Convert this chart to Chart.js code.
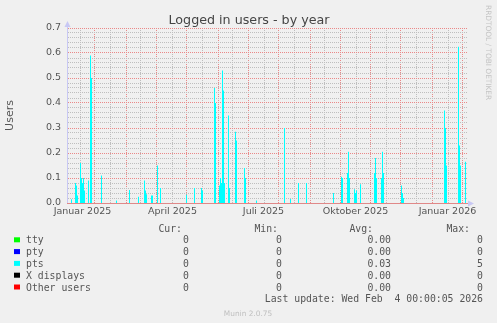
<!DOCTYPE html>
<html>
<head>
<meta charset="utf-8">
<script src="https://cdn.jsdelivr.net/npm/chart.js@4/dist/chart.umd.min.js"></script>
<style>
html, body { margin: 0; padding: 0; background: #f0f0f0; }
canvas { display: block; }
</style>
</head>
<body>
<canvas id="grafico" width="497" height="323"></canvas>
<script>
// dias contados a partir de 1 jan 2025 (dias sem pico = 0 usuarios)
const diasPico = [-11, -7, -6, -5, -2, -1, 0, 1, 2, 6, 8, 9, 19, 34, 47, 56, 62, 63, 64, 69, 70, 75, 78,
    104, 112, 119, 120, 132, 133, 137, 138, 139, 140, 141, 142, 146, 147, 153, 154, 162, 163, 174,
    202, 208, 216, 224, 251, 259, 260, 265, 266, 267, 272, 273, 274, 278, 292, 293, 294, 299, 300, 301,
    319, 320, 321, 362, 363, 364, 376, 377, 378, 383];
const usuariosPts = [0.015, 0.08, 0.07, 0.03, 0.16, 0.1, 0.08, 0.1, 0.05, 0.09, 0.59, 0.5, 0.11, 0.01, 0.052, 0.025, 0.09, 0.05, 0.035, 0.03, 0.03, 0.15, 0.06,
    0.033, 0.06, 0.06, 0.05, 0.46, 0.4, 0.07, 0.1, 0.08, 0.53, 0.45, 0.08, 0.35, 0.06, 0.285, 0.25, 0.14, 0.1, 0.01,
    0.3, 0.016, 0.08, 0.08, 0.04, 0.105, 0.1, 0.12, 0.205, 0.1, 0.055, 0.04, 0.05, 0.075, 0.12, 0.18, 0.1, 0.1, 0.205, 0.12,
    0.07, 0.04, 0.02, 0.37, 0.3, 0.15, 0.625, 0.23, 0.15, 0.165];

const rotulosX = ['Januar 2025', 'April 2025', 'Juli 2025', 'Oktober 2025', 'Januar 2026'];
const diasRotulos = [0, 90, 181, 273, 365];

// linhas de grade verticais (em dias)
const gradeMaior = [12, 44, 74, 104, 136, 166, 196, 228, 258, 288, 318, 350, 380];
const gradeMenor = [-2, 28, 58, 90, 120, 150, 182, 212, 242, 274, 304, 334, 366];

const series = ['tty', 'pty', 'pts', 'X displays', 'Other users'];
const cores = ['#00ff00', '#0000ff', '#00ffff', '#000000', '#ff0000'];
const atual = ['0', '0', '0', '0', '0'];
const minimo = ['0', '0', '0', '0', '0'];
const media = ['0.00', '0.00', '0.03', '0.00', '0.00'];
const maximo = ['0', '0', '5', '0', '0'];

const primeiroDia = -15.5, ultimoDia = 384.5;

// serie diaria completa
const pontosPts = [];
for (let d = -15; d <= 384; d++) {
    const i = diasPico.indexOf(d);
    pontosPts.push({ x: d, y: i >= 0 ? usuariosPts[i] : 0 });
}

const corMaior = 'rgb(234,136,136)';
const corMenor = 'rgb(190,190,190)';

function ehMaior(v) {
    return Math.abs(v * 10 - Math.round(v * 10)) < 1e-6;
}

// textos e eixos no estilo do rrdtool
const desenhoMunin = {
    id: 'desenhoMunin',
    afterDatasetsDraw(chart) {
        const ctx = chart.ctx;
        const a = chart.chartArea;
        ctx.save();
        ctx.strokeStyle = '#e08888';
        ctx.lineWidth = 1;
        ctx.beginPath();
        ctx.moveTo(a.left, a.bottom + 0.5);
        ctx.lineTo(a.right + 2, a.bottom + 0.5);
        ctx.stroke();
        ctx.strokeStyle = '#c8c8f4';
        ctx.beginPath();
        ctx.moveTo(a.left + 0.5, a.bottom);
        ctx.lineTo(a.left + 0.5, a.top - 3);
        ctx.stroke();
        ctx.fillStyle = '#c8c8f4';
        ctx.beginPath();
        ctx.moveTo(a.left + 0.5, a.top - 7);
        ctx.lineTo(a.left - 2.5, a.top - 1);
        ctx.lineTo(a.left + 3.5, a.top - 1);
        ctx.fill();
        ctx.beginPath();
        ctx.moveTo(a.right + 7, a.bottom + 0.5);
        ctx.lineTo(a.right + 1, a.bottom - 2.5);
        ctx.lineTo(a.right + 1, a.bottom + 3.5);
        ctx.fill();
        ctx.restore();
    },
    afterDraw(chart) {
        const ctx = chart.ctx;
        ctx.save();
        ctx.fillStyle = '#444';
        ctx.font = '12.7px "DejaVu Sans"';
        ctx.textAlign = 'center';
        ctx.textBaseline = 'alphabetic';
        ctx.fillText('Logged in users - by year', 249, 24);

        // marca d'agua vertical
        ctx.save();
        ctx.translate(488, 5);
        ctx.rotate(Math.PI / 2);
        ctx.fillStyle = '#c4c4c4';
        ctx.font = '7.4px "DejaVu Sans"';
        ctx.textAlign = 'left';
        ctx.textBaseline = 'middle';
        ctx.fillText('RRDTOOL / TOBI OETIKER', 0, 0);
        ctx.restore();

        // tabela da legenda
        ctx.font = '9.8px "DejaVu Sans Mono"';
        ctx.fillStyle = '#555';
        ctx.textAlign = 'right';
        const base = 231.5, passo = 11.8;
        ctx.fillText('Cur:', 182, base);
        ctx.fillText('Min:', 278, base);
        ctx.fillText('Avg:', 373, base);
        ctx.fillText('Max:', 470, base);
        for (let i = 0; i < series.length; i++) {
            const y = base + passo * (i + 1);
            ctx.fillStyle = cores[i];
            ctx.fillRect(14, y - 6, 6, 5);
            ctx.fillStyle = '#555';
            ctx.textAlign = 'left';
            ctx.fillText(series[i], 26, y);
            ctx.textAlign = 'right';
            ctx.fillText(atual[i], 189, y);
            ctx.fillText(minimo[i], 282, y);
            ctx.fillText(media[i], 391, y);
            ctx.fillText(maximo[i], 483, y);
        }
        ctx.fillText('Last update: Wed Feb  4 00:00:05 2026', 483, base + passo * 6);

        ctx.font = '7.4px "DejaVu Sans"';
        ctx.fillStyle = '#c0c0c0';
        ctx.textAlign = 'center';
        ctx.fillText('Munin 2.0.75', 248, 315.5);
        ctx.restore();
    }
};

new Chart(document.getElementById('grafico'), {
    type: 'line',
    data: {
        datasets: [{
            label: 'pts',
            data: pontosPts,
            stepped: 'middle',
            fill: 'origin',
            backgroundColor: cores[2],
            borderColor: 'rgba(0,0,0,0)',
            borderWidth: 1,
            pointRadius: 0
        }]
    },
    options: {
        responsive: false,
        devicePixelRatio: 1,
        animation: false,
        layout: { padding: { left: 0, right: 30, top: 28, bottom: 0 } },
        plugins: {
            legend: { display: false },
            tooltip: { enabled: false }
        },
        scales: {
            x: {
                type: 'linear',
                min: primeiroDia,
                max: ultimoDia,
                afterFit: s => { s.height = 120; },
                afterBuildTicks: s => {
                    const t = [];
                    gradeMenor.forEach(d => t.push({ value: d, tipo: 'menor' }));
                    gradeMaior.forEach(d => t.push({ value: d, tipo: 'maior' }));
                    diasRotulos.forEach((d, i) => t.push({ value: d, tipo: 'rotulo', texto: rotulosX[i] }));
                    t.sort((p, q) => p.value - q.value);
                    s.ticks = t;
                },
                grid: {
                    drawTicks: false,
                    color: c => {
                        if (!c.tick) return 'rgba(0,0,0,0)';
                        if (c.tick.tipo === 'maior') return corMaior;
                        if (c.tick.tipo === 'menor') return corMenor;
                        return 'rgba(0,0,0,0)';
                    }
                },
                border: { display: false, dash: [1, 1] },
                ticks: {
                    autoSkip: false,
                    maxRotation: 0,
                    minRotation: 0,
                    padding: 3,
                    color: '#555',
                    font: { family: 'DejaVu Sans', size: 9.5 },
                    callback: (v, i, t) => t[i].texto || ''
                }
            },
            y: {
                min: 0,
                max: 0.7,
                afterFit: s => { s.width = 67; },
                afterBuildTicks: s => {
                    const t = [];
                    for (let k = 0; k <= 35; k++) t.push({ value: Math.round(k * 2) / 100 });
                    s.ticks = t;
                },
                grid: {
                    drawTicks: false,
                    color: c => (c.tick && ehMaior(c.tick.value)) ? corMaior : corMenor
                },
                border: { display: false, dash: [1, 1], dashOffset: 1 },
                ticks: {
                    autoSkip: false,
                    padding: 6,
                    color: '#555',
                    font: { family: 'DejaVu Sans', size: 9.5 },
                    callback: v => ehMaior(v) ? v.toFixed(1) : ''
                },
                title: {
                    display: true,
                    text: 'Users',
                    color: '#555',
                    font: { family: 'DejaVu Sans', size: 11 },
                    padding: { top: 4, bottom: 0 }
                }
            }
        }
    },
    plugins: [desenhoMunin]
});
</script>
</body>
</html>
